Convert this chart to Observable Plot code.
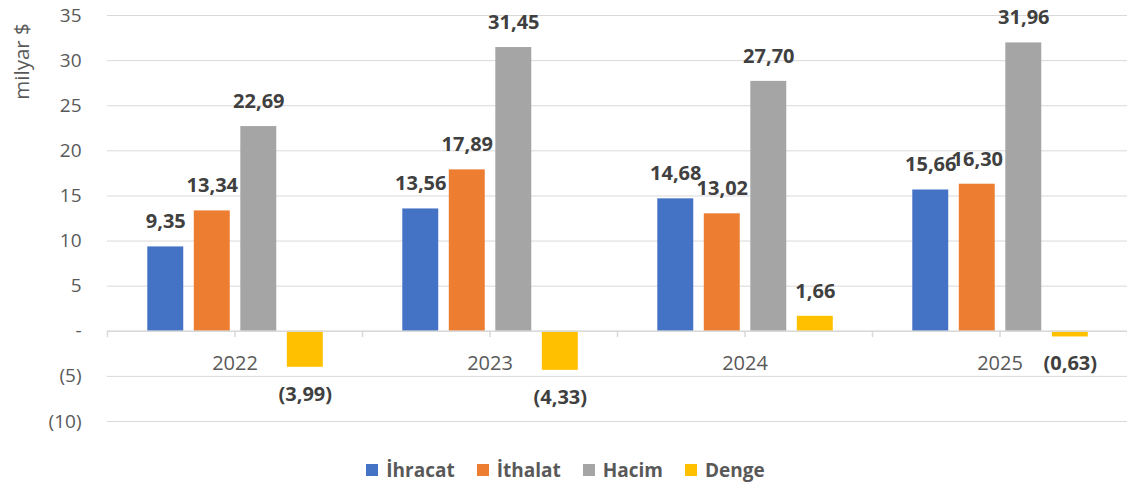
<!DOCTYPE html>
<html>
<head>
<meta charset="utf-8">
<script src="https://cdn.jsdelivr.net/npm/d3@7"></script>
<script src="https://cdn.jsdelivr.net/npm/@observablehq/plot@0.6"></script>
<style>
  html, body { margin: 0; padding: 0; background: #fff; }
  #chart { width: 1127px; }
  .legend { display: flex; justify-content: center; align-items: center; height: 30px; margin-top: 15px; font-family: "Open Sans", sans-serif; font-weight: bold; font-size: 19px; color: #595959; padding-left: 4px; }
  .legend .item { display: flex; align-items: center; margin: 0 11px; }
  .legend .sw { width: 12px; height: 12px; margin-right: 8px; }
</style>
</head>
<body>
<div id="chart"></div>
<script>
const years = ["2022", "2023", "2024", "2025"];
const seriesNames = ["İhracat", "İthalat", "Hacim", "Denge"];
const ihracat = [9.35, 13.56, 14.68, 15.66];
const ithalat = [13.34, 17.89, 13.02, 16.30];
const hacim = [22.69, 31.45, 27.70, 31.96];
const denge = [-3.99, -4.33, 1.66, -0.63];
const colors = ["#4472C4", "#ED7D31", "#A5A5A5", "#FFC000"];
const yTicks = [-10, -5, 0, 5, 10, 15, 20, 25, 30, 35];
const yTitle = "milyar $";

// layout inside each year's unit band (data units of the linear x scale)
const groupStart = 0.158, barStep = 0.1824, barWidth = 0.141;

const seriesValues = [ihracat, ithalat, hacim, denge];
const rows = [];
years.forEach((yr, i) => {
  seriesValues.forEach((vals, j) => {
    const x1 = i + groupStart + j * barStep;
    rows.push({year: yr, series: seriesNames[j], value: vals[i], x1, x2: x1 + barWidth, xm: x1 + barWidth / 2});
  });
});
const yearCenters = years.map((y, i) => ({year: y, x: i + 0.5}));
const tickXs = d3.range(0, years.length + 0.01, 0.5);

const fmtNum = v => {
  const s = Math.abs(v).toFixed(2).replace(".", ",");
  return v < 0 ? `(${s})` : s;
};
const fmtTick = v => v === 0 ? "-" : v < 0 ? `(${Math.abs(v)})` : `${v}`;

const chart = Plot.plot({
  width: 1127,
  height: 440,
  marginTop: 15,
  marginBottom: 19,
  marginLeft: 107,
  marginRight: 0,
  style: {fontFamily: "Open Sans, sans-serif", background: "#fff"},
  x: {domain: [0, years.length], axis: null},
  y: {domain: [-10, 35], axis: null},
  color: {domain: seriesNames, range: colors},
  marks: [
    Plot.ruleY(yTicks, {x1: 0, x2: years.length, stroke: "#d9d9d9", strokeWidth: 1}),
    Plot.axisY({ticks: yTicks, tickFormat: fmtTick, tickSize: 0, tickPadding: 26, fontSize: 19, fill: "#595959", label: null}),
    Plot.text([yTitle], {frameAnchor: "top-left", rotate: -90, textAnchor: "middle", lineAnchor: "middle", dx: -85, dy: 46, fontSize: 20.5, fill: "#595959"}),
    Plot.ruleX(tickXs, {x: d => d, y1: 0, y2: -0.7, stroke: "#d9d9d9", strokeWidth: 1.5}),
    Plot.rect(rows, {x1: "x1", x2: "x2", y1: 0, y2: "value", fill: "series"}),
    Plot.ruleY([0], {x1: 0, x2: years.length, stroke: "#d9d9d9", strokeWidth: 1.5}),
    Plot.text(yearCenters, {x: "x", y: 0, text: "year", dy: 32, fontSize: 20, fill: "#595959"}),
    Plot.text(rows.filter(d => d.value >= 0), {x: "xm", y: "value", text: d => fmtNum(d.value), dy: -25, fontSize: 20, fontWeight: "bold", fill: "#404040"}),
    Plot.text(rows.filter(d => d.value < 0), {x: "xm", y: "value", text: d => fmtNum(d.value), dy: 27, fontSize: 20, fontWeight: "bold", fill: "#404040"})
  ]
});
document.getElementById("chart").appendChild(chart);

const legend = document.createElement("div");
legend.className = "legend";
seriesNames.forEach((name, j) => {
  const item = document.createElement("div");
  item.className = "item";
  const sw = document.createElement("span");
  sw.className = "sw";
  sw.style.background = colors[j];
  const label = document.createElement("span");
  label.textContent = name;
  item.appendChild(sw);
  item.appendChild(label);
  legend.appendChild(item);
});
document.getElementById("chart").appendChild(legend);
</script>
</body>
</html>
